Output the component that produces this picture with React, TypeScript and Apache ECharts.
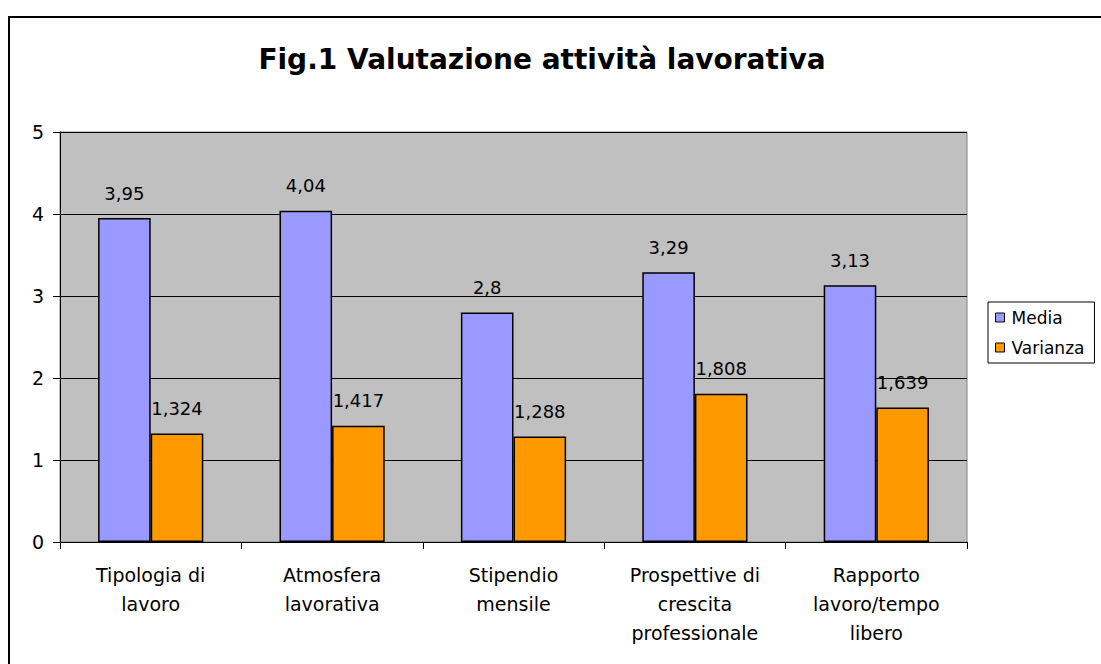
import React, { useEffect, useRef } from "react";
import * as echarts from "echarts";

const categories = [
  "Tipologia di\nlavoro",
  "Atmosfera\nlavorativa",
  "Stipendio\nmensile",
  "Prospettive di\ncrescita\nprofessionale",
  "Rapporto\nlavoro/tempo\nlibero",
];
const media = [3.95, 4.04, 2.8, 3.29, 3.13];
const varianza = [1.324, 1.417, 1.288, 1.808, 1.639];
const yTicks = [0, 1, 2, 3, 4, 5];

const fmt = (v: number) => String(v).replace(".", ",");
const FONT = "DejaVu Sans, Liberation Sans, Arial, sans-serif";

export default function App() {
  const ref = useRef<HTMLDivElement>(null);
  useEffect(() => {
    if (!ref.current) return;
    const chart = echarts.init(ref.current, null, { renderer: "svg" });
    const labelCfg = {
      show: true,
      position: "top",
      distance: 16,
      fontFamily: FONT,
      fontSize: 18,
      color: "#000",
      formatter: (p: any) => fmt(p.value),
    };
    chart.setOption({
      animation: false,
      backgroundColor: "#ffffff",
      textStyle: { fontFamily: FONT },
      title: {
        text: "Fig.1 Valutazione attività lavorativa",
        left: 537,
        top: 40,
        textAlign: "center",
        textStyle: { fontFamily: FONT, fontSize: 28, fontWeight: "bold", color: "#000" },
      },
      graphic: [
        {
          type: "rect",
          shape: { x: 9, y: 17, width: 1200, height: 800 },
          style: { fill: "none", stroke: "#000", lineWidth: 2 },
          silent: true,
          z: 100,
        },
      ],
      legend: {
        orient: "vertical",
        left: 988,
        top: 302,
        padding: [7, 10, 7, 7],
        itemGap: 13,
        itemWidth: 9,
        itemHeight: 9,
        icon: "rect",
        borderColor: "#000",
        borderWidth: 1,
        backgroundColor: "#fff",
        itemStyle: { borderColor: "#000", borderWidth: 1 },
        textStyle: { fontFamily: FONT, fontSize: 17, color: "#000", padding: [0, 0, 0, 2] },
        data: ["Media", "Varianza"],
      },
      grid: {
        left: 60,
        right: 134,
        top: 132,
        bottom: 122,
        show: true,
        backgroundColor: "#C0C0C0",
        borderColor: "#808080",
        borderWidth: 1,
        containLabel: false,
      },
      xAxis: {
        type: "category",
        data: categories,
        boundaryGap: true,
        axisLine: { show: true, lineStyle: { color: "#000", width: 1 } },
        axisTick: { show: true, length: 7, lineStyle: { color: "#000" } },
        axisLabel: {
          fontFamily: FONT,
          fontSize: 19,
          color: "#000",
          margin: 18,
          lineHeight: 29,
          interval: 0,
        },
      },
      yAxis: {
        type: "value",
        min: yTicks[0],
        max: yTicks[yTicks.length - 1],
        interval: 1,
        axisLine: { show: true, lineStyle: { color: "#000", width: 1 } },
        axisTick: { show: true, length: 7, lineStyle: { color: "#000" } },
        axisLabel: { fontFamily: FONT, fontSize: 19, color: "#000", margin: 16 },
        splitLine: { show: true, lineStyle: { color: "#000", width: 1 } },
      },
      series: [
        {
          name: "Media",
          type: "bar",
          data: media,
          barGap: "0%",
          barCategoryGap: "42%",
          itemStyle: { color: "#9999FF", borderColor: "#000", borderWidth: 1.5 },
          label: labelCfg,
        },
        {
          name: "Varianza",
          type: "bar",
          data: varianza,
          itemStyle: { color: "#FF9900", borderColor: "#000", borderWidth: 1.5 },
          label: labelCfg,
        },
      ],
    });
    return () => chart.dispose();
  }, []);
  return (
    <div
      ref={ref}
      style={{ position: "absolute", left: 0, top: 0, width: 1101, height: 664 }}
    />
  );
}
